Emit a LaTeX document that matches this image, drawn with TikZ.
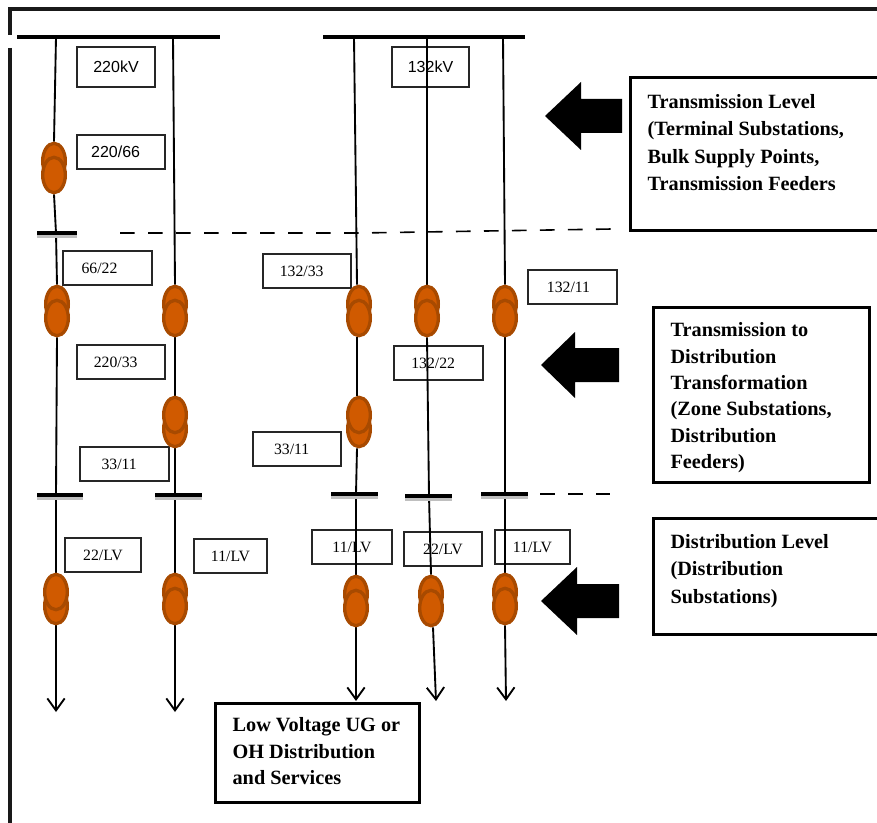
\documentclass[tikz,border=0pt]{standalone}
\usepackage{fontspec}
\setmainfont{Liberation Serif}
\newfontfamily\labsans{Liberation Sans}
\usetikzlibrary{shapes.geometric,arrows.meta}
\pgfdeclarelayer{boxes}
\pgfdeclarelayer{lines}
\pgfsetlayers{boxes,lines,main}
\definecolor{coil}{HTML}{D05A00}
\definecolor{coiledge}{HTML}{A84A00}
\tikzset{
  x=0.75pt,y=-0.75pt,
  frameline/.style={line width=2.3pt,black!90},
  busbar/.style={line width=3pt,black},
  busshade/.style={line width=2.5pt,black!25},
  feeder/.style={line width=1.4pt,black},
  feederend/.style={feeder,-{Straight Barb[length=9pt,width=13pt,line width=1.4pt]}},
  dashline/.style={line width=1.2pt,dash pattern=on 11pt off 10pt},
  lab/.style={draw=black!85,line width=1pt,fill=white,inner sep=0pt,font=\fontsize{11.8}{13}\selectfont},
  sanslab/.style={lab,font=\labsans\fontsize{12}{14}\selectfont},
  bigbox/.style={draw=black,line width=2.4pt,fill=white,inner sep=0pt,anchor=north west,
    font=\bfseries\fontsize{15.2}{20}\selectfont},
  coilshape/.style={ellipse,draw=coiledge,fill=coil,line width=2.5pt,minimum width=17pt,minimum height=26.5pt,inner sep=0pt},
  blockarrow/.style={fill=black,draw=none}
}
% #1 name, #2 x, #3 y; the lower winding lies over the upper one
\newcommand{\xfdown}[3]{%
  \node[coilshape] (#1u) at (#2,#3-7) {};
  \node[coilshape] (#1l) at (#2,#3+7) {};
}
% the upper winding lies over the lower one
\newcommand{\xfup}[3]{%
  \node[coilshape] (#1l) at (#2,#3+7) {};
  \node[coilshape] (#1u) at (#2,#3-7) {};
}
\newcommand{\labbox}[6][lab]{%
  \node[#1,minimum width=#4*0.75pt,minimum height=#5*0.75pt] (#2) at (#3) {#6};
}
\newcommand{\leftblock}[7]{% name tipx y basex halfhead halfshaft endx
  \fill[blockarrow] (#2,#3) -- (#4,#3-#5) -- (#4,#3-#6) -- (#7,#3-#6) -- (#7,#3+#6) -- (#4,#3+#6) -- (#4,#3+#5) -- cycle;
  \coordinate (#1) at (#2,#3);
}
% width, height, left offset, top offset, line spacing (all in px), text
\newcommand{\boxtext}[6]{%
  \parbox[c][\the\dimexpr#2pt*3/4\relax][t]{\the\dimexpr#1pt*3/4\relax}{%
  \fontsize{15.2}{\the\dimexpr#5pt*3/4\relax}\selectfont\leftskip=\dimexpr#3pt*3/4\relax\rightskip=0pt plus 1fil\parindent=0pt
  \vspace*{\dimexpr#4pt*3/4\relax}#6\par}%
}
\begin{document}
\begin{tikzpicture}
\useasboundingbox (0,0) rectangle (877,823);
\begin{pgfonlayer}{boxes}
\fill[white] (0,0) rectangle (877,823);
\end{pgfonlayer}

% outer frame
\draw[frameline] (10,48) -- (10,823);
\draw[frameline] (10,35) -- (10,9) -- (877,9);

% bus bars
\draw[busbar] (17,37) -- (220,37);
\draw[busbar] (323,37) -- (525,37);
\foreach \xa/\xb/\yy in {37/77/233,37/83/495,155/202/495,331/378/494,405/452/496,481/528/494}{
  \draw[busshade] (\xa,\yy+3) -- (\xb,\yy+3);
  \draw[busbar,line width=2.6pt] (\xa,\yy) -- (\xb,\yy);
}

% level separators
\draw[dashline] (120,233) -- (360,233) -- (612,229);
\draw[dashline] (540,494) -- (610,494);

% transformers
\xfdown{ta}{54}{168}
\xfdown{tb}{57}{311}
\xfdown{tc}{175}{311}
\xfdown{td}{359}{311}
\xfdown{te}{427}{311}
\xfdown{tf}{505}{311}
\xfup{tg}{175}{422}
\xfup{th}{359}{422}
\xfup{ti}{56}{599}
\xfdown{tj}{175}{599}
\xfdown{tk}{356}{601}
\xfdown{tl}{431}{601}
\xfdown{tm}{505}{599}

% tap points
\coordinate (a0) at (56,37);  \coordinate (a1) at (56,233); \coordinate (a2) at (56,495); \coordinate (a3) at (56,712);
\coordinate (b0) at (173,37); \coordinate (b2) at (175,495); \coordinate (b3) at (175,712);
\coordinate (c0) at (354,37); \coordinate (c1) at (357,311); \coordinate (c2) at (356,494); \coordinate (c3) at (356,701);
\coordinate (d0) at (427,37); \coordinate (d2) at (429,496); \coordinate (d3) at (436,701); \coordinate (d4) at (433,620);
\coordinate (e0) at (503,37); \coordinate (e2) at (505,494); \coordinate (e3) at (506,701);

\begin{pgfonlayer}{lines}
\draw[feeder] (a0) -- (tau.north);
\draw[feeder] (tal.south) -- (a1);
\draw[feeder] (a1) -- (tbu.north);
\draw[feeder] (tbl.south) -- (a2);
\draw[feeder] (a2) -- (tiu.north);
\draw[feederend] (til.south) -- (a3);

\draw[feeder] (b0) -- (tcu.north);
\draw[feeder] (tcl.south) -- (tgu.north);
\draw[feeder] (tgl.south) -- (b2);
\draw[feeder] (b2) -- (tju.north);
\draw[feederend] (tjl.south) -- (b3);

\draw[feeder] (c0) -- (c1 |- tdu.north);
\draw[feeder] (c1 |- tdl.south) -- (c1 |- thu.north);
\draw[feeder] (c1 |- thl.south) -- (c2);
\draw[feeder] (c2) -- (tku.north);
\draw[feederend] (tkl.south) -- (c3);

\draw[feeder] (d0) -- (teu.north);
\draw[feeder] (tel.south) -- (d2);
\draw[feeder] (d2) -- (tlu.north);
\draw[feederend] (d4 |- tll.south) -- (d3);

\draw[feeder] (e0) -- (tfu.north);
\draw[feeder] (tfl.south) -- (e2);
\draw[feeder] (e2) -- (tmu.north);
\draw[feederend] (tml.south) -- (e3);
\end{pgfonlayer}

% voltage labels
\begin{pgfonlayer}{boxes}
\labbox[sanslab]{l1}{116,67}{78}{40}{220kV}
\labbox[sanslab]{l2}{121,152}{88}{34}{\hspace*{-8pt}220/66}
\labbox[sanslab]{l3}{430.5,67}{77}{40}{132kV}
\labbox{l4}{107.5,268}{89}{34}{\hspace*{-12pt}66/22}
\labbox{l5}{307,271}{88}{34}{\hspace*{-8pt}132/33}
\labbox{l6}{572.5,287}{89}{34}{\hspace*{-6pt}132/11}
\labbox{l7}{121,362}{88}{34}{\hspace*{-8pt}220/33}
\labbox{l8}{438.5,363}{89}{34}{\hspace*{-8pt}132/22}
\labbox{l9}{124.5,464}{89}{34}{\hspace*{-8pt}33/11}
\labbox{l10}{297,449}{88}{34}{\hspace*{-8pt}33/11}
\labbox{l11}{103,555}{76}{34}{22/LV}
\labbox{l12}{230.5,556}{73}{34}{11/LV}
\labbox{l13}{352,547}{80}{34}{11/LV}
\labbox{l14}{443,549}{78}{34}{22/LV}
\labbox{l15}{532.5,547}{75}{34}{11/LV}
\end{pgfonlayer}

% level descriptions
\node[bigbox] (n1) at (629,76) {\boxtext{248}{153}{17}{17}{27.3}{Transmission Level\\(Terminal Substations,\\Bulk Supply Points,\\Transmission Feeders}};
\node[bigbox] (n2) at (652,306) {\boxtext{216}{175}{17}{15}{26.4}{Transmission to\\Distribution\\Transformation\\(Zone Substations,\\Distribution\\Feeders)}};
\node[bigbox] (n3) at (652,517) {\boxtext{225}{116}{17}{15.5}{27.5}{Distribution Level\\(Distribution\\Substations)}};
\node[bigbox] (n4) at (214,702) {\boxtext{204}{99}{17}{14}{26.5}{Low Voltage UG or\\OH Distribution\\and Services}};

% block arrows
\leftblock{ar1}{545}{116}{581}{34}{17}{622}
\leftblock{ar2}{541}{365}{575}{33}{17}{619}
\leftblock{ar3}{541}{601}{577}{34}{17}{619}
\end{tikzpicture}
\end{document}
